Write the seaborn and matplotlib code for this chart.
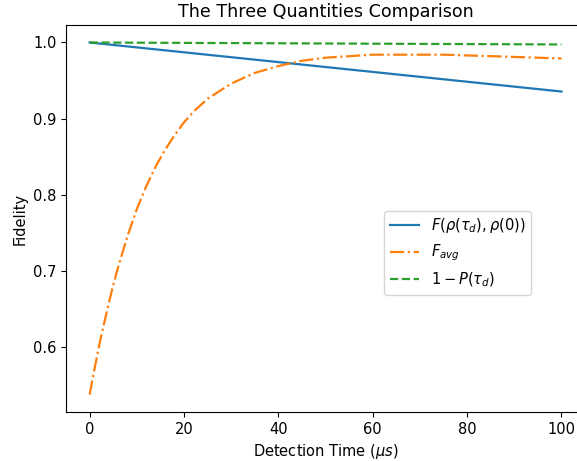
import numpy as np
import matplotlib
matplotlib.use("Agg")
import matplotlib.pyplot as plt
import seaborn as sns

# values
t_fid = [0, 100]
fid = [1.0, 0.9355]

t_avg = [0, 1, 2, 3, 4, 5, 6, 8, 10, 12, 14, 16, 18, 20, 22, 25, 30, 35, 40,
         45, 50, 55, 60, 65, 70, 75, 80, 85, 90, 95, 100]
f_avg = [0.537, 0.570, 0.601, 0.629, 0.656, 0.681, 0.704, 0.745, 0.781, 0.811,
         0.837, 0.859, 0.878, 0.895, 0.909, 0.926, 0.946, 0.960, 0.969, 0.976,
         0.980, 0.982, 0.984, 0.984, 0.984, 0.984, 0.983, 0.982, 0.981, 0.980, 0.979]

t_p = [0, 100]
one_minus_p = [1.0, 0.9974]

plt.rcParams['font.size'] = 10.5

fig, ax = plt.subplots(figsize=(5.77, 4.61), dpi=100)
sns.lineplot(x=t_fid, y=fid, ax=ax, color='C0', linestyle='-', linewidth=1.6,
             label=r'$F(\rho(\tau_d), \rho(0))$')
sns.lineplot(x=t_avg, y=f_avg, ax=ax, color='C1', linestyle='-.', linewidth=1.6,
             label=r'$F_{avg}$')
sns.lineplot(x=t_p, y=one_minus_p, ax=ax, color='C2', linestyle='--', linewidth=1.6,
             label=r'$1 - P(\tau_d)$')

ax.set_title('The Three Quantities Comparison')
ax.set_xlabel(r'Detection Time ($\mu s$)')
ax.set_ylabel('Fidelity')
ax.legend(loc='lower left', bbox_to_anchor=(0.599, 0.284))

fig.subplots_adjust(left=0.1145, right=1.014, top=0.946, bottom=0.106)
fig.savefig('out.png', dpi=100)
